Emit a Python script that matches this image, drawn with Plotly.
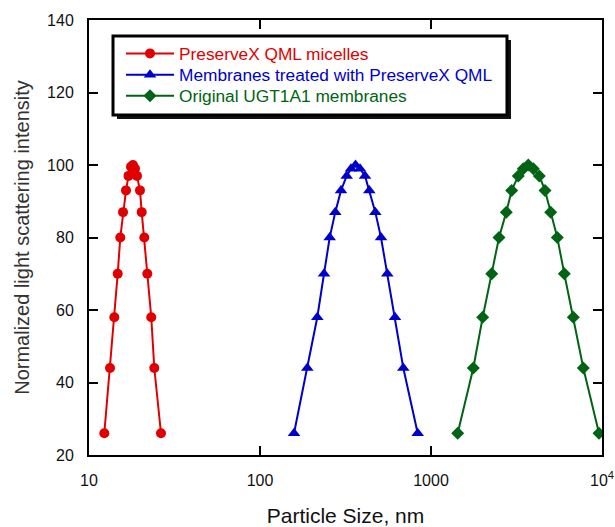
import plotly.graph_objects as go

# ---- data ----
micelles_size = [12.29, 13.27, 14.06, 14.72, 15.24, 15.81, 16.46, 17.02, 17.60, 18.08,
                 18.58, 19.08, 19.87, 20.33, 21.06, 21.93, 23.13, 24.09, 26.36]
micelles_int = [26, 44, 58, 70, 80, 87, 93, 97, 99.5, 100, 99, 97, 93, 87, 80, 70, 58, 44, 26]

treated_size = [158.1, 189.1, 216.3, 236.8, 255.6, 275.6, 297.7, 321.4, 340.6, 361.8,
                384.5, 411.2, 435.8, 472.4, 510.1, 555.2, 615.8, 688.7, 836.1]
treated_int = [26, 44, 58, 70, 80, 87, 93, 97, 99, 100, 99, 97, 93, 87, 80, 70, 58, 44, 26]

original_size = [1432.6, 1768, 2006, 2265, 2499, 2756, 2964, 3239, 3465, 3707,
                 3965, 4298, 4642, 5012, 5478, 6019, 6795, 7774, 9605]
original_int = [26, 44, 58, 70, 80, 87, 93, 97, 99, 100, 99, 97, 93, 87, 80, 70, 58, 44, 26]

x_tickvals = [10, 100, 1000, 10000]
x_ticktext = ["10", "100", "1000", "10<sup>4</sup>"]
y_tickvals = [20, 40, 60, 80, 100, 120, 140]

RED, BLUE, GREEN = "#e00000", "#0000cc", "#006414"
FONT = "Liberation Sans, Arial, sans-serif"

fig = go.Figure()
fig.add_trace(go.Scatter(
    x=micelles_size, y=micelles_int, mode="lines+markers", legend="legend",
    name=f'<span style="color:{RED}">PreserveX QML micelles</span>',
    line=dict(color=RED, width=2),
    marker=dict(symbol="circle", size=10, color=RED)))
fig.add_trace(go.Scatter(
    x=treated_size, y=treated_int, mode="lines+markers", legend="legend2",
    name=f'<span style="color:{BLUE}">Membranes treated with PreserveX QML</span>',
    line=dict(color=BLUE, width=2),
    marker=dict(symbol="triangle-up", size=11, color=BLUE)))
fig.add_trace(go.Scatter(
    x=original_size, y=original_int, mode="lines+markers", legend="legend3",
    name=f'<span style="color:{GREEN}">Original UGT1A1 membranes</span>',
    line=dict(color=GREEN, width=2),
    marker=dict(symbol="diamond", size=10, color=GREEN)))

axis_common = dict(
    showline=True, linecolor="black", linewidth=2, mirror="ticks",
    ticks="inside", ticklen=9, tickwidth=1.5, tickcolor="black",
    showgrid=False, zeroline=False, automargin=False,
    tickfont=dict(family=FONT, size=16, color="#111"),
    ticklabelstandoff=10,
)

def leg(y):
    return dict(x=0.0624, y=y, xanchor="left", yanchor="top",
                bgcolor="rgba(0,0,0,0)", borderwidth=0,
                font=dict(family=FONT, size=17.3), itemwidth=48)

fig.update_layout(
    width=615, height=527,
    margin=dict(l=89, r=13, t=20, b=72),
    paper_bgcolor="white", plot_bgcolor="white",
    font=dict(family=FONT, color="#111"),
    showlegend=True,
    legend=leg(0.9640), legend2=leg(0.9150), legend3=leg(0.8667),
    xaxis=dict(
        type="log", range=[1, 4], tickvals=x_tickvals, ticktext=x_ticktext,
        title=dict(text="Particle Size, nm", font=dict(family=FONT, size=21, color="#111"),
                   standoff=30),
        **axis_common),
    yaxis=dict(
        range=[20, 140], tickvals=y_tickvals,
        title=dict(text="Normalized light scattering intensity",
                   font=dict(family=FONT, size=20, color="#333"), standoff=12),
        **axis_common),
)

# legend drop shadow and framed box
fig.add_shape(type="rect", xref="paper", yref="paper",
              x0=0.0546, x1=0.8226, y0=0.7724, y1=0.954,
              fillcolor="#111", line=dict(width=0), layer="below")
fig.add_shape(type="rect", xref="paper", yref="paper",
              x0=0.0468, x1=0.8148, y0=0.7816, y1=0.9632,
              fillcolor="white", line=dict(color="black", width=3), layer="below")

fig.write_html("out.html")
